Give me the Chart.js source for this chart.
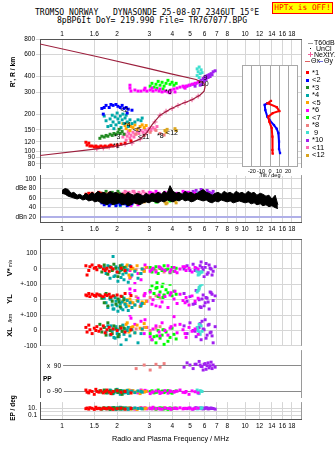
<!DOCTYPE html>
<html>
<head>
<meta charset="utf-8">
<title>Dynasonde ionogram</title>
<script src="https://cdn.jsdelivr.net/npm/chart.js@4.4.1/dist/chart.umd.min.js"></script>
<style>
  body { margin: 0; background: #fff; }
  #page { position: relative; width: 335px; height: 451px; overflow: hidden; font-family: "Liberation Sans", Arial, sans-serif; color: #000; }
  #page canvas { position: absolute; left: 0; }
  .txt { position: absolute; white-space: pre; line-height: 1; }
  .mono { font-family: "DejaVu Sans Mono", monospace; }
  .rot { transform: translate(-50%, -50%) rotate(-90deg); }
  .sym { position: absolute; }
</style>
</head>
<body>
<div id="page">
  <div class="txt mono" style="left:35px;top:8px;font-size:8.1px">TROMSO NORWAY   DYNASONDE 25-08-07 2346UT 15°E</div>
  <div class="txt mono" style="left:57px;top:16px;font-size:8.1px">8pBP6It DoY= 219.990 File= TR767077.BPG</div>
  <div class="txt mono" style="left:272px;top:2px;width:59px;height:9px;padding-top:1px;background:#ff0;border:1px solid #f00;color:#f00;font-size:7.8px;text-align:center">HPTx is OFF!</div>

  <canvas id="cHeight" width="335" height="149" style="top:24px"></canvas>
  <canvas id="cAmp" width="335" height="64" style="top:173px"></canvas>
  <canvas id="cTilt" width="80" height="125" style="top:60px;left:230px"></canvas>
  <canvas id="cVel" width="335" height="111" style="top:237px"></canvas>
  <canvas id="cPol" width="335" height="52" style="top:348px"></canvas>
  <canvas id="cErr" width="335" height="51" style="top:400px"></canvas>

  <div class="txt rot" style="left:13px;top:72px;font-size:6.8px;font-weight:bold">R', R / km</div>
  <div class="txt rot" style="left:10px;top:268px;font-size:7.5px;font-weight:bold">V*<span style="font-size:4.5px;font-weight:normal"> m/s</span></div>
  <div class="txt rot" style="left:10px;top:299px;font-size:7.5px;font-weight:bold">YL</div>
  <div class="txt rot" style="left:11px;top:318px;font-size:5.5px">/km</div>
  <div class="txt rot" style="left:10px;top:332px;font-size:7.5px;font-weight:bold">XL</div>
  <div class="txt rot" style="left:13px;top:408px;font-size:6.5px;font-weight:bold">EP / deg</div>
  <div class="txt" style="left:43px;top:376px;font-size:6.5px;font-weight:bold">PP</div>

  <div id="legend"></div>
</div>

<script>
// ---- axes -------------------------------------------------------------
const F_MIN = 0.758;
const F_MAX = 20.2;
const FREQ_TICKS = [1, 1.5, 2, 3, 4, 5, 6, 7, 8, 10, 12, 14, 16, 18];
const FREQ_TICKS_MID = [1, 1.5, 2, 3, 4, 5, 6, 7, 8, 9, 10, 12, 14, 16, 18];
const FREQ_LABELS_TOP = ['1', '1.6', '2', '3', '4', '5', '6', '7', '8', '10', '12', '14', '16', '18'];
const FREQ_LABELS_MID = ['1', '1.6', '2', '3', '4', '5', '6', '7', '8', '9', '10', '12', '14', '16', '18'];
const FREQ_LABELS_BOT = ['1', '1.5', '2', '3', '4', '5', '6', '7', '8', '10', '12', '14', '16', '18'];

const HEIGHT_TICKS = [80, 90, 100, 120, 150, 200, 300, 400, 600, 800];
const DB_TICKS = [20, 40, 60, 80, 100];
const DB_LABELS = ['dBn 20', '40', '60', 'dBe 80', '100'];
const TILT_TICKS = [-20, -10, 0, 10, 20];

// ---- electron density profile (MHz, km) and NeXtYZ points -------------
const PROF_F = [0.75, 1.61, 3.03, 3.89, 5.40, 5.97, 6.05, 5.97, 5.68, 5.13, 4.41, 3.89, 3.43, 3.10, 2.91, 2.67, 2.35, 2.00, 1.55, 0.75];
const PROF_H = [732, 571, 461, 422, 379, 353, 335, 306, 285, 261, 239, 219, 196, 164, 143, 126, 117, 111, 105.5, 93];
const NE_F = [1.55, 1.68, 1.81, 2.00, 2.21, 2.41, 2.67, 2.84, 3.03, 3.22, 3.43, 3.70, 3.99, 4.30, 4.70, 5.13, 5.54];
const NE_H = [105.5, 107, 109, 111, 115, 117, 126, 138, 153, 173, 196, 211, 222, 235, 248, 261, 279];

// ---- tilt profile (deg, km) -------------------------------------------
const TILT_X_DEG = [1.1, -2.6, 7.4, 10.3, 3.0, -1.9, -0.8, 1.9, 2.6, 2.6, 3.0];
const TILT_X_H = [266, 255, 238, 222, 214, 201, 184, 164, 141, 111, 104];
const TILT_Y_DEG = [-3.0, -5.9, -5.2, -3.0, 0, 4.4, 7.4, 9.2, 10, 10, 11.1];
const TILT_Y_H = [255, 248, 226, 201, 187, 173, 162, 150, 129, 113, 105];

// ---- noise floor band (MHz, dB) ---------------------------------------
const NOISE_F = [1.00, 1.04, 1.08, 1.12, 1.16, 1.21, 1.25, 1.30, 1.35, 1.40, 1.46, 1.51, 1.57, 1.63, 1.70, 1.76, 1.83, 1.90, 1.97,
  2.05, 2.13, 2.21, 2.29, 2.38, 2.47, 2.57, 2.67, 2.77, 2.88, 2.99, 3.10, 3.22, 3.35, 3.48, 3.61, 3.75, 3.89,
  4.04, 4.20, 4.36, 4.53, 4.70, 4.88, 5.07, 5.27, 5.47, 5.68, 5.90, 6.13, 6.36, 6.61, 6.86, 7.13, 7.40, 7.69, 7.98,
  8.29, 8.61, 8.94, 9.29, 9.64, 10.0, 10.4, 10.8, 11.2, 11.6, 12.1, 12.5, 13.0, 13.5, 14.0, 14.6, 15.1];
const NOISE_HI = [76, 80, 78, 70, 72, 66, 68, 64, 70, 66, 72, 68, 74, 70, 72, 68, 74, 70, 72,
  68, 70, 66, 72, 68, 66, 70, 68, 64, 70, 66, 70, 68, 72, 68, 74, 70, 86,
  74, 70, 72, 68, 74, 70, 72, 68, 70, 74, 78, 72, 70, 66, 70, 72, 68, 74, 70,
  72, 68, 74, 70, 72, 68, 74, 70, 72, 66, 70, 68, 64, 66, 58, 66, 46];
const NOISE_LO = [70, 68, 64, 62, 60, 58, 60, 56, 58, 54, 56, 52, 54, 50, 48, 46, 50, 46, 48,
  50, 46, 48, 44, 46, 50, 48, 46, 50, 52, 50, 54, 52, 50, 54, 52, 56, 54,
  52, 56, 54, 58, 54, 56, 52, 54, 58, 56, 54, 56, 52, 50, 54, 52, 56, 54, 52,
  54, 50, 52, 54, 52, 50, 52, 48, 50, 46, 48, 44, 46, 42, 44, 40, 38];

// ---- echo groups: freq MHz, height km, amplitude dB, V* m/s, YL/XL km, PP/EP deg
const G1_F = [1.35, 1.37, 1.40, 1.42, 1.46, 1.50, 1.53, 1.55, 1.59, 1.63, 1.68, 1.72, 1.76, 1.81, 1.85, 1.90, 2.00, 2.10, 2.21, 2.38];
const G1_H = [119, 113, 117, 111, 111, 109, 111, 109, 109, 111, 109, 111, 109, 111, 113, 111, 113, 115, 117, 122];
const G1_DB = [68, 64, 70, 66, 70, 62, 64, 68, 72, 70, 66, 68, 64, 70, 66, 62, 68, 64, 66, 60];
const G1_V = [20, -40, -10, 15, 25, 5, 10, -5, 20, 15, 0, -10, 5, -15, 10, 0, -20, 5, -10, 15];
const G1_YL = [30, 25, 40, 20, 35, 28, 22, 38, 30, 25, 20, 32, 28, 35, 18, 25, 30, 22, 40, 28];
const G1_XL = [20, -10, 35, 5, -20, 15, 0, 25, -5, 10, 30, -15, 5, 20, -25, 10, 0, 15, -10, 5];
const G1_PP = [-80, -95, -100, -85, -90, -110, -75, -90, -95, -85, -100, -90, -80, -95, -105, -90, -85, -95, -90, -100];
const G1_EP = [8, 12, 6, 15, 10, 5, 20, 8, 10, 6, 12, 9, 7, 14, 10, 5, 8, 11, 6, 9];

const G2_F = [1.65, 1.70, 1.74, 1.81, 1.85, 1.90, 1.97, 2.02, 2.08, 2.13, 2.18, 2.24, 2.30, 2.41, 1.68, 2.27];
const G2_H = [222, 226, 235, 226, 239, 235, 239, 231, 226, 235, 222, 226, 219, 215, 200, 204];
const G2_DB = [50, 46, 52, 44, 48, 54, 44, 50, 46, 52, 48, 50, 46, 48, 52, 44];

const G3_F = [1.61, 1.65, 1.70, 1.74, 1.78, 1.83, 1.88, 1.92, 1.97, 2.02, 2.08, 2.13, 2.18, 2.05];
const G3_H = [128, 133, 131, 135, 133, 138, 135, 140, 138, 143, 140, 145, 138, 151];
const G3_DB = [64, 70, 60, 74, 66, 56, 72, 62, 50, 74, 68, 60, 66, 70];
const G3_V = [10, -20, 25, 0, -35, 15, -10, 30, 5, -50, 20, -5, 10, -25];
const G3_YL = [30, 10, -20, 40, -40, 15, -10, 25, -30, 5, -45, 20, 0, -15];
const G3_XL = [40, -10, 20, -30, 50, 0, -20, 30, 10, -40, 25, -5, 15, -25];
const G3_PP = [-85, -95, -80, -100, -90, -88, -105, -92, -78, -96, -84, -110, -90, -86];
const G3_EP = [10, 6, 14, 8, 12, 5, 9, 16, 7, 11, 6, 13, 8, 10];

const G4_F = [1.70, 1.74, 1.78, 1.83, 1.88, 1.90, 1.95, 1.97, 2.00, 2.02, 2.05, 2.08, 2.10, 2.13, 2.15, 2.18, 2.21, 2.24, 2.27, 2.30, 2.35, 2.41, 2.50, 2.60, 2.70, 2.74, 1.92, 1.85];
const G4_H = [193, 177, 159, 183, 196, 173, 190, 164, 204, 183, 171, 193, 156, 180, 200, 168, 186, 196, 173, 159, 180, 168, 173, 180, 177, 186, 153, 162];
const G4_DB = [54, 62, 48, 58, 66, 52, 60, 46, 56, 64, 68, 44, 54, 60, 50, 58, 62, 48, 56, 64, 52, 58, 60, 54, 58, 62, 50, 56];
const G4_V = [10, -30, 20, -60, 0, 81, -45, 15, -20, -80, 5, -10, -55, 25, -35, -70, 10, -25, -5, -87, 20, -40, -15, -60, -30, 0, -50, 10];
const G4_YL = [10, -20, -50, 5, -35, -60, 15, -10, -40, -75, 0, -25, -55, -15, -65, 10, -30, -45, -5, -70, -20, -50, -35, -10, -40, -25, -60, 5];
const G4_XL = [20, -10, 30, -30, 0, 10, -50, 25, -20, 5, -40, 15, -94, -5, 35, -25, 10, -60, 0, 20, -35, 5, -15, -80, -20, 10, -45, 30];
const G4_PP = [-90, -85, -100, -80, -95, -105, -88, -92, -75, -98, -90, -110, -84, -94, -86, -100, -90, -96, -82, -104, -92, -88, -98, -86, -90, -95, -100, -85];
const G4_EP = [10, 8, 12, 6, 15, 9, 11, 5, 13, 7, 10, 20, 8, 6, 12, 9, 14, 7, 10, 5, 11, 8, 13, 9, 10, 7, 12, 8];

const G5_F = [2.15, 2.21, 2.27, 2.32, 2.38, 2.24, 2.35, 2.44, 2.50, 2.57, 2.67, 2.74, 2.81, 2.88];
const G5_H = [168, 162, 171, 164, 159, 153, 148, 156, 164, 151, 159, 164, 156, 162];
const G5_DB = [58, 52, 62, 48, 56, 60, 52, 58, 54, 50, 56, 60, 52, 58];
const G5_V = [10, -20, 25, -40, 0, 15, -55, 5, -10, 20, -30, 0, -15, 10];
const G5_YL = [-10, -25, 0, -40, -15, -30, 5, -20, -35, -5, -44, -15, -25, -10];
const G5_XL = [30, 10, 50, -10, 20, 40, 0, 25, -15, 35, 15, 5, 45, 20];
const G5_PP = [-90, -85, -95, -80, -100, -92, -88, -84, -96, -90, -105, -86, -94, -90];
const G5_EP = [10, 7, 13, 9, 6, 11, 15, 8, 10, 5, 12, 9, 7, 11];

const G6_F = [2.35, 2.38, 2.50, 2.60, 2.70, 2.81, 2.91, 3.03, 3.14, 3.26, 3.39, 3.52, 3.65, 3.79, 3.94, 4.09, 4.25, 4.41, 4.58, 4.76, 4.94, 5.13, 5.33, 5.54, 2.35, 3.10, 2.84, 4.70, 4.14, 3.43, 3.89];
const G6_H = [341, 306, 312, 306, 306, 312, 306, 312, 306, 312, 306, 301, 306, 301, 312, 318, 323, 329, 335, 335, 341, 347, 353, 360, 323, 323, 323, 323, 301, 318, 296];
const G6_DB = [50, 44, 52, 46, 62, 58, 66, 72, 68, 74, 70, 64, 72, 68, 74, 66, 70, 64, 74, 68, 72, 66, 70, 64, 46, 70, 64, 72, 68, 66, 70];
const G6_V = [-10, -50, -94, -30, -70, -5, 10, -15, 5, -20, 15, 0, -10, 20, -5, 10, -25, 0, 15, -10, 5, -20, 10, 0, -60, -5, 25, 15, -15, 10, -20];
const G6_YL = [40, -20, 60, 10, -30, 25, -10, 50, 0, -40, 30, -15, 20, -50, 45, 5, -25, 35, -5, 15, -35, 25, -10, 10, 70, -30, 40, -20, 55, -45, 30];
const G6_XL = [120, 80, 40, 130, 60, -20, 20, -40, 10, 30, -10, 50, 0, -30, 25, 90, -15, 40, 5, -45, 20, -5, 10, -25, 100, -60, 70, -20, 35, -35, 15];
const G6_PP = [-90, -85, -95, -100, -80, -92, -88, -105, -94, -86, -90, -98, -84, -102, -90, -95, -88, -80, -96, -90, -110, -86, -92, -100, -88, -94, -82, -98, -90, -104, -86];
const G6_EP = [8, 12, 6, 10, 15, 9, 7, 11, 20, 8, 10, 6, 13, 9, 5, 11, 8, 14, 7, 10, 12, 6, 9, 11, 10, 7, 13, 9, 11, 6, 10];

const G7_F = [3.03, 3.10, 3.18, 3.26, 3.35, 3.43, 3.52, 3.61, 3.70, 3.79, 3.89, 3.99, 4.09, 4.20, 3.30, 3.56];
const G7_H = [335, 353, 329, 347, 366, 341, 360, 335, 353, 373, 347, 360, 341, 353, 323, 318];
const G7_DB = [60, 56, 62, 52, 58, 64, 60, 66, 58, 62, 54, 62, 60, 58, 52, 60];
const G7_V = [10, -20, 0, 15, -30, 5, -10, 20, -5, 0, -25, 10, -15, 5, -90, -100];
const G7_YL = [60, 90, 40, 75, 20, 50, 85, 30, 65, 45, 100, 25, 55, 35, 80, 15];
const G7_XL = [-20, -60, -40, -80, 0, -50, -30, -90, -10, -70, -45, 15, -25, -55, -35, 5];
const G7_PP = [-90, -85, -100, -95, -80, -92, -88, -98, -90, -84, -96, -102, -90, -86, -94, -88];
const G7_EP = [10, 8, 12, 6, 9, 14, 11, 7, 10, 5, 13, 8, 9, 12, 10, 7];

const G8_F = [2.54, 2.81, 3.03, 3.26, 3.43, 3.61];
const G8_H = [138, 135, 143, 148, 140, 136];
const G8_DB = [66, 62, 68, 64, 66, 62];
const G8_V = [-5, -15, 0, -10, 5, -20];
const G8_YL = [20, 30, 15, 25, 12, 28];
const G8_XL = [10, 20, 0, 15, 25, 5];
const G8_PP = [70, 95, 60, 100, 80, 105];
const G8_EP = [8, 12, 10, 6, 9, 14];

const G9_F = [5.47, 5.61, 5.75, 5.54, 5.68, 5.47, 5.61, 5.82];
const G9_H = [461, 477, 453, 437, 422, 407, 393, 430];
const G9_DB = [70, 66, 62, 68, 64, 70, 66, 62];
const G9_V = [-15, -30, -20, -40, -25, -10, -35, -20];
const G9_YL = [50, 80, 110, 60, 90, 130, 70, 100];
const G9_XL = [20, -10, 30, 0, -25, 10, 40, -5];
const G9_PP = [-80, -95, -88, -100, -85, -92, -105, -90];
const G9_EP = [10, 8, 12, 9, 11, 7, 10, 13];

const G10_F = [4.64, 4.82, 5.00, 5.20, 5.40, 5.61, 5.75, 5.90, 6.05, 6.20, 6.36, 6.52, 6.69, 6.86, 5.97, 6.12, 6.28, 6.44, 5.82, 5.33, 6.60, 5.68];
const G10_H = [329, 335, 341, 347, 353, 366, 373, 386, 400, 407, 414, 422, 437, 445, 366, 379, 393, 400, 347, 335, 414, 341];
const G10_DB = [70, 72, 68, 74, 76, 72, 78, 74, 70, 76, 72, 68, 74, 66, 68, 64, 72, 70, 74, 70, 70, 68];
const G10_V = [0, 20, -10, 30, 5, -20, 45, -5, 10, -35, 25, 0, -15, 15, -50, 35, -25, 5, 10, -10, -40, 20];
const G10_YL = [40, -10, 20, -30, 60, 0, -50, 30, -20, 10, -60, 45, -5, 25, -40, 15, -15, 50, 5, -25, 35, -45];
const G10_XL = [30, -20, 50, 0, -40, 20, -60, 10, 70, -30, 40, -10, -80, 25, 5, -50, 35, -15, 60, -5, -35, 45];
const G10_PP = [80, 110, 95, 70, 100, 120, 85, 60, 105, 90, 75, 115, 95, 80, 100, 65, 110, 90, 85, 100, 70, 95];
const G10_EP = [10, 8, 12, 6, 15, 9, 11, 7, 10, 13, 8, 12, 9, 6, 11, 14, 7, 10, 8, 12, 9, 11];

const G11_F = [2.15, 2.21, 2.27, 2.32, 2.38, 2.44, 2.50, 2.57, 2.63, 2.70, 2.77, 2.84, 2.91, 2.99, 3.06, 3.14, 3.22, 3.30, 2.24, 2.35, 2.47, 2.30];
const G11_H = [131, 138, 133, 140, 135, 143, 138, 145, 140, 148, 143, 151, 145, 153, 148, 156, 151, 159, 124, 128, 131, 145];
const G11_DB = [70, 74, 68, 72, 66, 74, 70, 64, 72, 68, 74, 70, 66, 72, 68, 70, 66, 70, 72, 68, 74, 70];

const G12_F = [3.65, 3.70, 3.75, 4.14, 4.20];
const G12_H = [148, 143, 151, 153, 148];
const G12_DB = [52, 48, 50, 54, 50];

// group tags written next to each trace (null = not tagged)
const TAG_F = [1.90, 2.08, 1.92, 2.18, 2.44, 3.65, null, 3.30, 5.90, 5.54, 2.60, 3.70];
const TAG_H = [111, 215, 131, 164, 148, 301, null, 133, 386, 347, 131, 140];

const GROUPS = [
  {tag: '*1', color: '#ff0000', f: G1_F, h: G1_H, db: G1_DB, v: G1_V, yl: G1_YL, xl: G1_XL, pp: G1_PP, ep: G1_EP},
  {tag: '<2', color: '#0000ff', f: G2_F, h: G2_H, db: G2_DB},
  {tag: '*3', color: '#228b22', f: G3_F, h: G3_H, db: G3_DB, v: G3_V, yl: G3_YL, xl: G3_XL, pp: G3_PP, ep: G3_EP},
  {tag: '*4', color: '#00a8a8', f: G4_F, h: G4_H, db: G4_DB, v: G4_V, yl: G4_YL, xl: G4_XL, pp: G4_PP, ep: G4_EP},
  {tag: '<5', color: '#ffa500', f: G5_F, h: G5_H, db: G5_DB, v: G5_V, yl: G5_YL, xl: G5_XL, pp: G5_PP, ep: G5_EP},
  {tag: '*6', color: '#ff00ff', f: G6_F, h: G6_H, db: G6_DB, v: G6_V, yl: G6_YL, xl: G6_XL, pp: G6_PP, ep: G6_EP},
  {tag: '<7', color: '#00ff00', f: G7_F, h: G7_H, db: G7_DB, v: G7_V, yl: G7_YL, xl: G7_XL, pp: G7_PP, ep: G7_EP},
  {tag: '*8', color: '#f08080', f: G8_F, h: G8_H, db: G8_DB, v: G8_V, yl: G8_YL, xl: G8_XL, pp: G8_PP, ep: G8_EP},
  {tag: ' 9', color: '#40e0d0', f: G9_F, h: G9_H, db: G9_DB, v: G9_V, yl: G9_YL, xl: G9_XL, pp: G9_PP, ep: G9_EP},
  {tag: '*10', color: '#a020f0', f: G10_F, h: G10_H, db: G10_DB, v: G10_V, yl: G10_YL, xl: G10_XL, pp: G10_PP, ep: G10_EP},
  {tag: '<11', color: '#ff69b4', f: G11_F, h: G11_H, db: G11_DB},
  {tag: '<12', color: '#daa520', f: G12_F, h: G12_H, db: G12_DB}
];

// ---- styling helpers ---------------------------------------------------
const FONT_FAMILY = '"Liberation Sans", Arial, sans-serif';
const TICK_FONT = {family: FONT_FAMILY, size: 6.5};
const GRID = '#d6d6d6';
const FRAME = '#555';
const FRAME_R = '#9a9a9a';
const CLEAR = 'rgba(0,0,0,0)';

function zip(xs, ys) { return xs.map((x, i) => ({x, y: ys[i]})); }

// axes keep exactly the box we give them: no extra room for edge labels
function noPad(s) { s.paddingTop = 0; s.paddingBottom = 0; s.paddingLeft = 0; s.paddingRight = 0; }

function dots(color, data) {
  return {data, showLine: false, pointStyle: 'rect', pointRadius: 2.1, pointHoverRadius: 0,
    pointBackgroundColor: color, pointBorderWidth: 0, borderColor: color};
}

function freqAxis({ticks = FREQ_TICKS, labels = [], position = 'bottom', height = 0, padding = 3, grid = true, border = true}) {
  return {
    type: 'logarithmic', position, min: F_MIN, max: F_MAX,
    afterBuildTicks: s => { s.ticks = ticks.concat(F_MAX).map(v => ({value: v})); },
    afterFit: s => { s.height = height; noPad(s); },
    ticks: {display: labels.length > 0, autoSkip: false, maxRotation: 0, padding, color: '#000', font: TICK_FONT,
      callback: (v, i) => (labels[i] !== undefined ? labels[i] : '')},
    grid: {drawTicks: false, color: c => (c.tick && c.tick.value === F_MAX ? FRAME_R : (grid ? GRID : CLEAR))},
    border: {display: border, color: FRAME}
  };
}

function leftAxis(o) {
  return {
    type: o.type || 'linear', position: 'left', min: o.min, max: o.max,
    stack: o.stack, stackWeight: o.stackWeight, weight: o.weight || 0,
    afterFit: s => { s.width = 40; noPad(s); },
    afterBuildTicks: s => { s.ticks = o.ticks.map(v => ({value: v})); },
    ticks: Object.assign({color: '#000', font: TICK_FONT, padding: o.pad !== undefined ? o.pad : 3, autoSkip: false,
      callback: (v, i) => o.labels[i]}, o.tickOpts || {}),
    grid: Object.assign({color: GRID, drawTicks: !!o.tickLen, tickLength: o.tickLen || 0, tickColor: GRID}, o.grid || {}),
    border: {color: FRAME}
  };
}

function base(scales) {
  return {
    responsive: false, animation: false, events: [],
    layout: {padding: {left: 0, right: 34, top: 0, bottom: 0}},
    plugins: {legend: {display: false}, tooltip: {enabled: false}},
    scales
  };
}

// group tags beside the height traces
const tagPlugin = {
  id: 'groupTags',
  afterDatasetsDraw(chart) {
    const {ctx, scales: {x, y}} = chart;
    ctx.save();
    ctx.font = '7px ' + FONT_FAMILY;
    ctx.fillStyle = '#000';
    ctx.textBaseline = 'middle';
    GROUPS.forEach((g, i) => {
      if (TAG_F[i] == null) return;
      ctx.fillText(g.tag.trim(), x.getPixelForValue(TAG_F[i]), y.getPixelForValue(TAG_H[i]));
    });
    ctx.restore();
  }
};

// white panel + frame behind the tilt inset
const insetFrame = {
  id: 'insetFrame',
  beforeDraw(chart) {
    const {ctx, chartArea: a} = chart;
    ctx.save();
    ctx.fillStyle = '#fff';
    ctx.fillRect(a.left, a.top, a.right - a.left, 116 - a.top);
    ctx.restore();
  },
  beforeDatasetsDraw(chart) {
    const {ctx, chartArea: a} = chart;
    ctx.save();
    ctx.strokeStyle = '#a8a8a8';
    ctx.lineWidth = 1;
    ctx.strokeRect(a.left + 0.5, a.top + 0.5, a.right - a.left - 1, a.bottom - a.top - 1);
    ctx.restore();
  }
};

// ---- virtual height panel --------------------------------------------
new Chart(document.getElementById('cHeight'), {
  type: 'line',
  data: {datasets: [
    {data: zip(PROF_F, PROF_H), showLine: true, borderColor: '#9c1e3c', borderWidth: 1.2, pointRadius: 0, tension: 0},
    ...GROUPS.map(g => dots(g.color, zip(g.f, g.h))),
    {data: zip(NE_F, NE_H), showLine: false, pointStyle: 'cross', pointRadius: 2.5, borderColor: '#f0609c', borderWidth: 1}
  ]},
  options: base({
    x: freqAxis({labels: FREQ_LABELS_TOP, position: 'top', height: 15, padding: 1}),
    y: leftAxis({type: 'logarithmic', min: 74, max: 800, ticks: HEIGHT_TICKS, labels: HEIGHT_TICKS.map(String), tickLen: 4, pad: 1})
  }),
  plugins: [tagPlugin]
});

// ---- amplitude panel ----------------------------------------------------
new Chart(document.getElementById('cAmp'), {
  type: 'line',
  data: {datasets: [
    {data: zip(NOISE_F, NOISE_HI), showLine: true, borderColor: '#000', borderWidth: 1, pointRadius: 0, fill: '+1', backgroundColor: '#000'},
    {data: zip(NOISE_F, NOISE_LO), showLine: true, borderColor: '#000', borderWidth: 1, pointRadius: 0, fill: false},
    ...GROUPS.map(g => dots(g.color, zip(g.f, g.db)))
  ]},
  options: base({
    x: freqAxis({ticks: FREQ_TICKS_MID, labels: FREQ_LABELS_MID, height: 15, padding: 3}),
    y: leftAxis({min: 10, max: 108, ticks: DB_TICKS, labels: DB_LABELS, pad: 4,
      grid: {color: c => (c.tick && c.tick.value === 20 ? '#b0b0e8' : GRID), lineWidth: c => (c.tick && c.tick.value === 20 ? 2 : 1)}})
  })
});

// ---- tilt inset ----------------------------------------------------------
new Chart(document.getElementById('cTilt'), {
  type: 'line',
  data: {datasets: [
    {data: zip(TILT_X_DEG, TILT_X_H), showLine: true, borderColor: '#ff0000', borderWidth: 2, pointStyle: 'rect', pointRadius: 1.6, pointBackgroundColor: '#ff0000', pointBorderWidth: 0},
    {data: zip(TILT_Y_DEG, TILT_Y_H), showLine: true, borderColor: '#0000ff', borderWidth: 2, pointStyle: 'rect', pointRadius: 1.6, pointBackgroundColor: '#0000ff', pointBorderWidth: 0}
  ]},
  options: {
    responsive: false, animation: false, events: [],
    layout: {padding: {left: 12, right: 12, top: 5, bottom: 0}},
    plugins: {legend: {display: false}, tooltip: {enabled: false}},
    scales: {
      x: {type: 'linear', min: -31, max: 31,
        afterBuildTicks: s => { s.ticks = TILT_TICKS.map(v => ({value: v})); },
        afterFit: s => { s.height = 18; noPad(s); },
        ticks: {color: '#000', font: {family: FONT_FAMILY, size: 5.5}, padding: 1, maxRotation: 0, autoSkip: false},
        grid: {color: '#a8a8a8', drawTicks: false}, border: {display: false},
        title: {display: true, text: 'Tilt / deg', color: '#000', font: {family: FONT_FAMILY, size: 5.5}, padding: {top: 0, bottom: 6}}},
      y: {type: 'logarithmic', min: 82, max: 504, display: false}
    }
  },
  plugins: [insetFrame]
});

// ---- V*, YL, XL stacked panels -----------------------------------------
const moving = GROUPS.filter(g => g.v);
new Chart(document.getElementById('cVel'), {
  type: 'line',
  data: {datasets: [
    ...moving.map(g => Object.assign(dots(g.color, zip(g.f, g.v)), {yAxisID: 'yV'})),
    ...moving.map(g => Object.assign(dots(g.color, zip(g.f, g.yl)), {yAxisID: 'yYL'})),
    ...moving.map(g => Object.assign(dots(g.color, zip(g.f, g.xl)), {yAxisID: 'yXL'}))
  ]},
  options: base({
    x: freqAxis({position: 'top', height: 0}),
    yV: leftAxis({min: -100, max: 193.75, stack: 'vel', stackWeight: 47, weight: 3, ticks: [-100, 0, 100], labels: ['+-100', '0', '100']}),
    yYL: leftAxis({min: -100, max: 100, stack: 'vel', stackWeight: 32, weight: 2, ticks: [-100, 0, 100], labels: ['+-100', '0', '']}),
    yXL: leftAxis({min: -100, max: 100, stack: 'vel', stackWeight: 32, weight: 1, ticks: [-100, 0, 100], labels: ['-100', '0', '']})
  })
});

// ---- polarization panel -------------------------------------------------
new Chart(document.getElementById('cPol'), {
  type: 'line',
  data: {datasets: moving.map(g => dots(g.color, zip(g.f, g.pp)))},
  options: base({
    x: freqAxis({height: 0, grid: false, border: false}),
    y: leftAxis({min: -135, max: 199.3, ticks: [-90, 90], labels: ['o -90', 'x  90'], pad: 7,
      tickOpts: {mirror: true, showLabelBackdrop: true, backdropColor: '#fff', backdropPadding: {left: 6, right: 2, top: 1, bottom: 1}},
      grid: {color: '#8a8a8a'}})
  })
});

// ---- error panel + frequency axis ------------------------------------------
new Chart(document.getElementById('cErr'), {
  type: 'line',
  data: {datasets: moving.map(g => dots(g.color, zip(g.f, g.ep)))},
  options: base({
    x: Object.assign(freqAxis({labels: FREQ_LABELS_BOT, height: 51 - 19, padding: 3}), {
      title: {display: true, text: 'Radio and Plasma Frequency / MHz', color: '#000', font: {family: FONT_FAMILY, size: 7.3}, padding: {top: 0, bottom: 7.5}}
    }),
    y: leftAxis({type: 'logarithmic', min: 0.01, max: 562, ticks: [0.1, 1, 10], labels: ['0.1', '', '10.']})
  })
});

// ---- legend ---------------------------------------------------------------
(function buildLegend() {
  const box = document.getElementById('legend');
  const add = (html) => box.insertAdjacentHTML('beforeend', html);
  const text = (x, y, s, size) => add(`<div class="txt" style="left:${x}px;top:${y - size / 2}px;font-size:${size}px">${s}</div>`);
  const bar = (x, y, w, c) => add(`<div class="sym" style="left:${x}px;top:${y}px;width:${w}px;height:1px;background:${c}"></div>`);

  bar(308, 43, 5, '#999');
  text(314, 42.7, 'T60dB', 7);
  add('<div class="sym" style="left:310px;top:48px;width:1px;height:1px;background:#000"></div>');
  text(316, 48.5, 'UnCl', 7);
  bar(308, 54, 5, '#f0609c');
  add('<div class="sym" style="left:310px;top:52px;width:1px;height:5px;background:#f0609c"></div>');
  text(314, 54.2, 'NeXtYZ', 7);
  bar(305, 61, 5, '#e06060');
  text(311, 60.7, 'Θx', 7);
  bar(318, 61, 5, '#7070e0');
  text(324, 60.7, 'Θy', 7);

  GROUPS.forEach((g, i) => {
    const y = 72.7 + i * 7.5;
    add(`<div class="sym" style="left:306px;top:${y - 1.5}px;width:3px;height:3px;background:${g.color}"></div>`);
    text(312, y, g.tag.replace('<', '&lt;'), 7.5);
  });
})();
</script>
</body>
</html>
